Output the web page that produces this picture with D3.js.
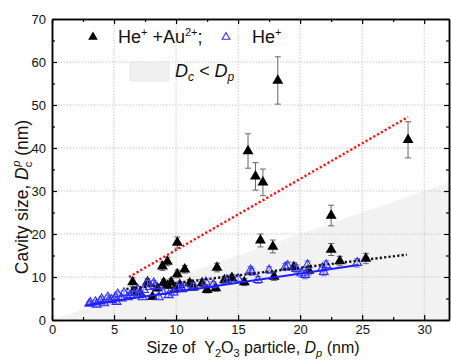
<!DOCTYPE html>
<html><head><meta charset="utf-8">
<script src="https://cdn.jsdelivr.net/npm/d3@7/dist/d3.min.js"></script>
<style>body{margin:0;background:#fff}svg{display:block;font-family:Arial,"Liberation Sans",sans-serif}</style>
</head><body><svg id="c" width="451" height="360"></svg>
<script>
// He+ + Au2+ (black filled triangles): x, y, error
const auX = [6.5,6.6,7.1,7.7,8.1,8.5,8.9,9.3,9.0,9.3,9.6,9.9,10.3,10.1,10.1,10.7,11.1,11.4,12.1,12.5,13.2,13.3,13.9,14.5,15.5,15.8,16.4,17.0,16.8,17.8,17.9,18.2,19.5,20.7,22.5,22.5,23.2,25.3,28.7];
const auY = [8.8,6.5,6.3,8.8,5.4,7.4,12.5,13.6,8.7,8.0,8.8,7.2,8.2,10.7,18.0,11.8,8.6,7.6,8.6,7.0,7.4,12.2,9.3,9.8,8.8,39.3,33.4,32.0,18.5,17.1,10.1,55.7,12.3,11.5,24.3,16.4,13.7,14.3,41.9];
const auErr = [1.0,0.6,0.6,0.8,0.5,0.7,1.0,1.0,0.8,0.7,0.8,0.7,0.7,0.9,1.3,0.9,0.8,0.7,0.8,0.7,0.7,1.0,0.8,0.8,0.8,4.0,3.2,3.1,1.5,1.5,0.9,5.5,1.0,1.0,2.4,1.4,1.1,1.2,4.2];
// He+ (blue open triangles)
const heX = [3.0,3.1,3.5,3.6,3.9,4.0,4.2,4.5,4.6,4.8,5.1,5.2,5.3,5.6,5.8,6.1,6.3,6.5,6.9,7.0,7.3,7.4,7.7,7.9,8.2,8.3,8.6,8.9,9.4,9.8,10.2,10.5,10.7,11.4,12.4,13.0,14.1,15.0,16.0,16.1,16.6,17.5,18.8,19.0,19.7,20.1,20.4,20.6,21.8,21.9,22.1,24.6];
const heY = [3.8,4.0,4.2,3.6,4.4,4.9,3.9,5.3,4.6,4.7,5.3,4.2,6.0,5.0,6.3,5.3,5.8,6.3,7.2,5.9,5.3,7.0,8.6,7.7,8.6,7.9,5.3,6.6,5.8,6.4,7.7,7.2,7.7,8.0,8.8,8.2,9.3,9.6,11.6,11.2,9.3,11.6,12.3,12.6,11.9,10.9,10.5,12.8,12.1,11.2,12.8,13.3];
const heErr = [0.4,0.4,0.4,0.4,0.4,0.5,0.4,0.5,0.5,0.5,0.5,0.4,0.5,0.5,0.5,0.5,0.5,0.5,0.6,0.5,0.5,0.6,0.6,0.6,0.6,0.6,0.5,0.6,0.5,0.6,0.6,0.6,0.6,0.6,0.7,0.7,0.7,0.7,0.8,0.8,0.8,0.8,0.8,0.9,0.9,0.9,0.9,0.9,0.9,0.9,0.9,1.0];
// fitted lines (endpoints)
const redFit = [[6.2,10.0],[28.7,47.2]];
const blackFit = [[6.0,7.2],[28.6,15.2]];
const blueFit = [[2.8,3.5],[24.7,12.8]];
// Dc < Dp region
const regionX = [0,32,32];
const regionY = [0,32,0];
const xTicks = [0,5,10,15,20,25,30];
const yTicks = [0,10,20,30,40,50,60,70];

const svg = d3.select("#c");
const x = d3.scaleLinear().domain([0,32]).range([52,449]);
const y = d3.scaleLinear().domain([0,70]).range([320,19]);

// shaded region
svg.append("path").attr("d", d3.line()(regionX.map((v,i)=>[x(v),y(regionY[i])])) + "Z")
  .attr("fill","#f2f2f2");

// grid
const grid = svg.append("g").attr("stroke","#c8c8c8").attr("stroke-width",1).attr("stroke-dasharray","1.5,1.5");
xTicks.filter(t=>t>0).forEach(t=>grid.append("line").attr("x1",x(t)).attr("x2",x(t)).attr("y1",y(0)).attr("y2",y(70)));
yTicks.filter(t=>t>0&&t<70).forEach(t=>grid.append("line").attr("x1",x(0)).attr("x2",x(32)).attr("y1",y(t)).attr("y2",y(t)));

// axes
function styleAxis(g){ g.selectAll(".domain").attr("stroke","#000").attr("stroke-width",1.5);
  g.selectAll(".tick line").attr("stroke","#000").attr("stroke-width",1.2);
  g.selectAll("text").attr("font-size","13px").attr("fill","#111").attr("font-family","Arial, 'Liberation Sans', sans-serif"); }
const xMinor = d3.range(2.5,32,5), yMinor = d3.range(5,70,10);
svg.append("g").attr("transform",`translate(0,${y(0)})`).call(d3.axisBottom(x).tickValues(xMinor).tickSizeInner(-3).tickSizeOuter(0).tickFormat("")).call(styleAxis);
svg.append("g").attr("transform",`translate(0,${y(70)})`).call(d3.axisTop(x).tickValues(xMinor).tickSizeInner(-3).tickSizeOuter(0).tickFormat("")).call(styleAxis);
svg.append("g").attr("transform",`translate(${x(0)},0)`).call(d3.axisLeft(y).tickValues(yMinor).tickSizeInner(-3).tickSizeOuter(0).tickFormat("")).call(styleAxis);
svg.append("g").attr("transform",`translate(${x(32)},0)`).call(d3.axisRight(y).tickValues(yMinor).tickSizeInner(-3).tickSizeOuter(0).tickFormat("")).call(styleAxis);
svg.append("g").attr("transform",`translate(0,${y(0)})`).call(d3.axisBottom(x).tickValues(xTicks).tickSizeInner(-5).tickSizeOuter(0).tickPadding(5)).call(styleAxis);
svg.append("g").attr("transform",`translate(0,${y(70)})`).call(d3.axisTop(x).tickValues(xTicks).tickSizeInner(-5).tickSizeOuter(0).tickFormat("")).call(styleAxis);
svg.append("g").attr("transform",`translate(${x(0)},0)`).call(d3.axisLeft(y).tickValues(yTicks).tickSizeInner(-5).tickSizeOuter(0).tickPadding(6)).call(styleAxis);
svg.append("g").attr("transform",`translate(${x(32)},0)`).call(d3.axisRight(y).tickValues(yTicks).tickSizeInner(-5).tickSizeOuter(0).tickFormat("")).call(styleAxis);

const tri = d3.symbol().type(d3.symbolTriangle);
function errBars(xs, ys, es, color){
  const g = svg.append("g").attr("stroke",color).attr("stroke-width",1).attr("fill","none");
  xs.forEach((v,i)=>{
    const cx=x(v), t=y(ys[i]+es[i]), b=y(ys[i]-es[i]);
    g.append("line").attr("x1",cx).attr("x2",cx).attr("y1",t).attr("y2",b);
    g.append("line").attr("x1",cx-3).attr("x2",cx+3).attr("y1",t).attr("y2",t);
    g.append("line").attr("x1",cx-3).attr("x2",cx+3).attr("y1",b).attr("y2",b);
  });
}
// black series
errBars(auX, auY, auErr, "#666");
svg.append("g").selectAll("path").data(auX).join("path")
  .attr("d", tri.size(52)()).attr("transform",(d,i)=>`translate(${x(d)},${y(auY[i])})`).attr("fill","#000");
// blue series
errBars(heX, heY, heErr, "#6f6fff");
svg.append("g").selectAll("path").data(heX).join("path")
  .attr("d", tri.size(34)()).attr("transform",(d,i)=>`translate(${x(d)},${y(heY[i])})`)
  .attr("fill","none").attr("stroke","#3030ff").attr("stroke-width",1.1);

const line = d3.line().x(d=>x(d[0])).y(d=>y(d[1]));
svg.append("path").attr("d",line(blackFit)).attr("stroke","#111").attr("stroke-width",2.4).attr("stroke-dasharray","2.2,2.2").attr("fill","none");
svg.append("path").attr("d",line(blueFit)).attr("stroke","#1f1fff").attr("stroke-width",2).attr("fill","none");
svg.append("path").attr("d",line(redFit)).attr("stroke","#ff1010").attr("stroke-width",2.4).attr("stroke-dasharray","2.2,2.2").attr("fill","none");

// legend
svg.append("path").attr("d",tri.size(40)()).attr("transform","translate(93,37)").attr("fill","#000");
const l1 = svg.append("text").attr("x",118).attr("y",43).attr("font-size","18px").attr("fill","#111");
l1.append("tspan").text("He");
l1.append("tspan").attr("font-size","11px").attr("dy",-7).text("+");
l1.append("tspan").attr("dy",7).text(" +Au");
l1.append("tspan").attr("font-size","11px").attr("dy",-7).text("2+");
l1.append("tspan").attr("dy",7).text(";");
svg.append("path").attr("d",tri.size(26)()).attr("transform","translate(226,37)").attr("fill","none").attr("stroke","#3030ff").attr("stroke-width",1.1);
const l2 = svg.append("text").attr("x",252).attr("y",43).attr("font-size","18px").attr("fill","#111");
l2.append("tspan").text("He");
l2.append("tspan").attr("font-size","11px").attr("dy",-7).text("+");
svg.append("rect").attr("x",130).attr("y",62).attr("width",39).attr("height",19).attr("fill","#f0f0f0").attr("stroke","#e4e4e4").attr("stroke-width",0.8);
const l3 = svg.append("text").attr("x",175).attr("y",77).attr("font-size","18px").attr("font-style","italic").attr("fill","#111");
l3.append("tspan").text("D");
l3.append("tspan").attr("font-size","12px").attr("dy",4).text("c");
l3.append("tspan").attr("dy",-4).text(" < D");
l3.append("tspan").attr("font-size","12px").attr("dy",4).text("p");

// axis titles
const xt = svg.append("text").attr("x",253).attr("y",353).attr("text-anchor","middle").attr("font-size","16px").attr("fill","#111");
xt.append("tspan").text("Size of \u00a0Y");
xt.append("tspan").attr("font-size","11px").attr("dy",4).text("2");
xt.append("tspan").attr("dy",-4).text("O");
xt.append("tspan").attr("font-size","11px").attr("dy",4).text("3");
xt.append("tspan").attr("dy",-4).text(" particle, ");
xt.append("tspan").attr("font-style","italic").text("D");
xt.append("tspan").attr("font-style","italic").attr("font-size","11px").attr("dy",4).text("p");
xt.append("tspan").attr("dy",-4).text(" (nm)");

const yt = svg.append("text").attr("transform","translate(28,197) rotate(-90)").attr("text-anchor","middle").attr("font-size","17.5px").attr("fill","#111");
yt.append("tspan").text("Cavity size, ");
yt.append("tspan").attr("font-style","italic").text("D");
yt.append("tspan").attr("font-size","11px").attr("dy",4).text("c");
yt.append("tspan").attr("font-size","11px").attr("font-style","italic").attr("dx",-5).attr("dy",-12).text("p");
yt.append("tspan").attr("dy",8).text(" (nm)");
</script></body></html>
